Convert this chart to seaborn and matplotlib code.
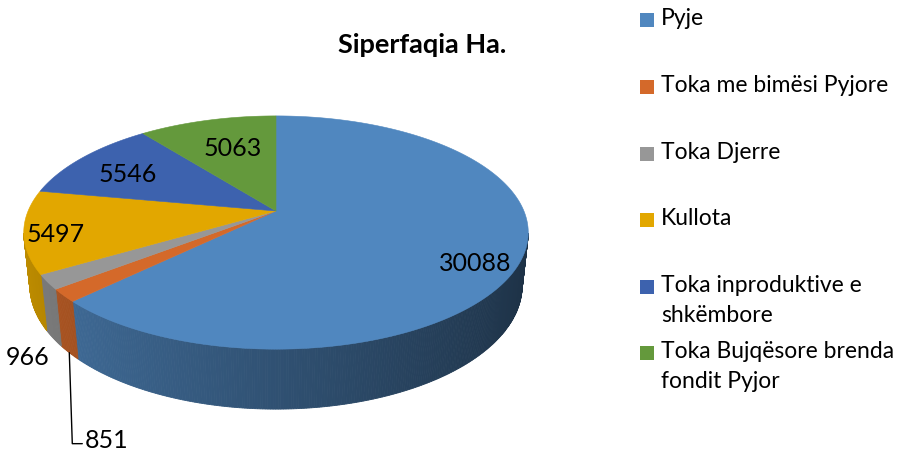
import numpy as np
import matplotlib
matplotlib.use('Agg')
import matplotlib.pyplot as plt
from matplotlib.patches import Rectangle
import matplotlib.colors as mcolors
import seaborn as sns

# data
categories = ["Pyje", "Toka me bimësi Pyjore", "Toka Djerre", "Kullota",
              "Toka inproduktive e\nshkëmbore", "Toka Bujqësore brenda\nfondit Pyjor"]
values = [30088, 851, 966, 5497, 5546, 5063]
slice_colors = ["#5087bf", "#d4692a", "#979797", "#e2a700", "#3d62ae", "#64993c"]
chart_title = "Siperfaqia Ha."

sns.set_theme(style="white")
plt.rcParams['font.family'] = ['Lato', 'DejaVu Sans']

# 3d pie geometry (pixel space of the figure)
CX, CY = 276, 212
D = 4.8
ELEV = np.radians(27.6)
se, ce = np.sin(ELEV), np.cos(ELEV)
FX, FY = 1190, 1167
H = 0.249


def proj(phi_deg, z, r=1.0):
    p = np.radians(phi_deg)
    x = r * np.cos(p)
    y = r * np.sin(p)
    depth = D + y * ce - z * se
    return CX + x * FX / depth, CY - (y * se + z * ce) * FY / depth


def shade(color, phi_deg):
    f = 0.6 - 0.24 * np.cos(np.radians(phi_deg))
    rgb = np.array(mcolors.to_rgb(color)) * f
    return np.clip(rgb, 0, 1)


fig = plt.figure(figsize=(8.98, 4.52), dpi=100)
ax = fig.add_axes([0, 0, 1, 1])
ax.set_xlim(0, 898)
ax.set_ylim(452, 0)
ax.axis('off')

total = float(sum(values))
cum = np.concatenate([[0], np.cumsum(values)])
starts = 90 - 360 * cum[:-1] / total
ends = 90 - 360 * cum[1:] / total
mids = (starts + ends) / 2

# visible front wall range
vis_hi, vis_lo = -11.0, -169.0

# side walls
for a0, a1, col in zip(starts, ends, slice_colors):
    hi = min(a0, vis_hi)
    lo = max(a1, vis_lo)
    if hi <= lo:
        continue
    n = max(2, int((hi - lo) / 0.5) + 1)
    phis = np.linspace(hi, lo, n)
    for p0, p1 in zip(phis[:-1], phis[1:]):
        x0, y0 = proj(p0, 0)
        x1, y1 = proj(p1, 0)
        x2, y2 = proj(p1, -H)
        x3, y3 = proj(p0, -H)
        c = shade(col, (p0 + p1) / 2)
        ax.fill([x0, x1, x2, x3], [y0, y1, y2, y3], color=c, lw=0.6, ec=c)

# top faces
for a0, a1, col in zip(starts, ends, slice_colors):
    n = max(3, int((a0 - a1) / 0.5) + 1)
    phis = np.linspace(a0, a1, n)
    xs, ys = proj(phis, 0)
    ax.fill(np.concatenate([[CX], xs]), np.concatenate([[CY], ys]),
            color=col, lw=0.4, ec=col)

# data labels
label_r = [0.86, None, None, 0.93, 0.75, 0.72]
label_off = [(-10, 11), None, None, (14, 3), (0, 3), (8, 5)]
for v, m, r, off in zip(values, mids, label_r, label_off):
    if r is None:
        continue
    lx, ly = proj(m, 0, r)
    ax.text(lx + off[0], ly + off[1], str(v), ha='center', va='center',
            fontsize=18, color='black')

# small slices: outside labels
gx, gy = proj(mids[2], -H)
ax.text(gx - 26, gy + 18, str(values[2]), ha='center', va='center', fontsize=18, color='black')
ox, oy = proj(mids[1], -H)
ax.plot([ox, ox + 3, ox + 13], [oy, oy + 91, oy + 91], color='black', lw=1.0)
ax.text(ox + 15, oy + 87, str(values[1]), ha='left', va='center', fontsize=18, color='black')

# title
ax.text(422, 45, chart_title, ha='center', va='center', fontsize=19.5, fontweight='bold', color='black')

# legend
leg_y = [21, 88, 155, 221, 288, 354]
for name, col, yy in zip(categories, slice_colors, leg_y):
    ax.add_patch(Rectangle((640, yy - 7), 14, 14, color=col, lw=0))
    ax.text(661, yy - 13, name, ha='left', va='top', fontsize=16.5, color='black',
            linespacing=1.55)

fig.savefig('out.png', dpi=100)
